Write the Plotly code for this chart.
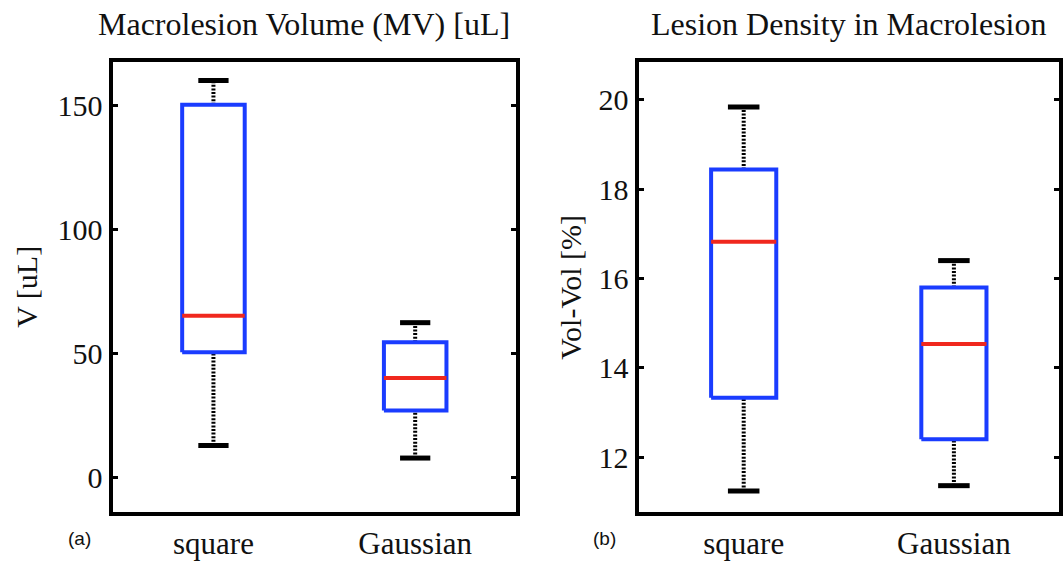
import plotly.graph_objects as go

# Box-plot summaries for the two beam profiles
groups = ["square", "Gaussian"]
positions = [1, 2]

# (a) Macrolesion volume [uL]
vol_upper = [160.0, 62.5]
vol_q3 = [150.2, 54.6]
vol_median = [65.3, 40.2]
vol_q1 = [50.6, 27.1]
vol_lower = [13.1, 8.0]
vol_ticks = [0, 50, 100, 150]

# (b) Lesion density in macrolesion [%]
dens_upper = [19.84, 16.4]
dens_q3 = [18.44, 15.8]
dens_median = [16.82, 14.53]
dens_q1 = [13.33, 12.4]
dens_lower = [11.24, 11.36]
dens_ticks = [12, 14, 16, 18, 20]

BLUE = "#1a3cff"
RED = "#f0281e"
BLACK = "#000000"
SERIF = "Liberation Serif, Times New Roman, serif"
SANS = "Liberation Sans, Arial, sans-serif"

BOX_HALF = 0.155
CAP_HALF = 0.075

fig = go.Figure()


def add_boxes(xref, yref, upper, q3, med, q1, lower):
    for p, up, hi, m, lo, dn in zip(positions, upper, q3, med, q1, lower):
        common = dict(xaxis=xref, yaxis=yref, mode="lines",
                      hoverinfo="skip", showlegend=False)
        # dotted whiskers
        fig.add_trace(go.Scatter(x=[p, p], y=[hi, up],
                                 line=dict(color=BLACK, width=4, dash="2px,1.6px"), **common))
        fig.add_trace(go.Scatter(x=[p, p], y=[dn, lo],
                                 line=dict(color=BLACK, width=4, dash="2px,1.6px"), **common))
        # whisker caps
        fig.add_trace(go.Scatter(x=[p - CAP_HALF, p + CAP_HALF], y=[up, up],
                                 line=dict(color=BLACK, width=5), **common))
        fig.add_trace(go.Scatter(x=[p - CAP_HALF, p + CAP_HALF], y=[dn, dn],
                                 line=dict(color=BLACK, width=5), **common))
        # interquartile box
        fig.add_trace(go.Scatter(
            x=[p - BOX_HALF, p + BOX_HALF, p + BOX_HALF, p - BOX_HALF, p - BOX_HALF],
            y=[lo, lo, hi, hi, lo],
            line=dict(color=BLUE, width=4), **common))
        # median
        fig.add_trace(go.Scatter(x=[p - BOX_HALF, p + BOX_HALF], y=[m, m],
                                 line=dict(color=RED, width=4), **common))


add_boxes("x", "y", vol_upper, vol_q3, vol_median, vol_q1, vol_lower)
add_boxes("x2", "y2", dens_upper, dens_q3, dens_median, dens_q1, dens_lower)

W, H = 1063, 561
y_dom = [1 - 518 / H, 1 - 63 / H]

xaxis_style = dict(
    range=[0.5, 2.5], tickvals=positions, ticktext=groups, ticks="",
    showline=True, linewidth=4, linecolor=BLACK, mirror=True,
    showgrid=False, zeroline=False,
    tickfont=dict(family=SERIF, size=31, color="#111"),
)
yaxis_style = dict(
    ticks="inside", ticklen=5, tickwidth=3, tickcolor=BLACK,
    showline=True, linewidth=4, linecolor=BLACK, mirror="allticks",
    showgrid=False, zeroline=False,
    tickfont=dict(family=SERIF, size=30, color="#111"),
)

fig.update_layout(
    width=W, height=H,
    margin=dict(l=0, r=0, t=0, b=0),
    paper_bgcolor="white", plot_bgcolor="white",
    xaxis=dict(domain=[113 / W, 518 / W], anchor="y", **xaxis_style),
    yaxis=dict(domain=y_dom, anchor="x", range=[-13.9, 167.3],
               tickvals=vol_ticks, **yaxis_style),
    xaxis2=dict(domain=[641 / W, 1.0], anchor="y2", **xaxis_style),
    yaxis2=dict(domain=y_dom, anchor="x2", range=[10.76, 20.84],
                tickvals=dens_ticks, **yaxis_style),
)

annotations = [
    dict(text="Macrolesion Volume (MV) [uL]", x=305 / W, y=1 - 24 / H),
    dict(text="Lesion Density in Macrolesion", x=852 / W, y=1 - 24 / H),
]
for a in annotations:
    fig.add_annotation(xref="paper", yref="paper", x=a["x"], y=a["y"],
                       text=a["text"], showarrow=False, xanchor="center", yanchor="middle",
                       font=dict(family=SERIF, size=32, color="#111"))

# rotated axis titles
fig.add_annotation(xref="paper", yref="paper", x=27 / W, y=1 - 290 / H, text="V [uL]",
                   textangle=-90, showarrow=False, xanchor="center", yanchor="middle",
                   font=dict(family=SERIF, size=30, color="#111"))
fig.add_annotation(xref="paper", yref="paper", x=573 / W, y=1 - 290 / H, text="Vol-Vol [%]",
                   textangle=-90, showarrow=False, xanchor="center", yanchor="middle",
                   font=dict(family=SERIF, size=30, color="#111"))

# panel letters
for letter, px in [("(a)", 80), ("(b)", 607)]:
    fig.add_annotation(xref="paper", yref="paper", x=px / W, y=1 - 544 / H, text=letter,
                       showarrow=False, xanchor="center", yanchor="middle",
                       font=dict(family=SANS, size=19, color="#111"))

fig.write_html("out.html")
